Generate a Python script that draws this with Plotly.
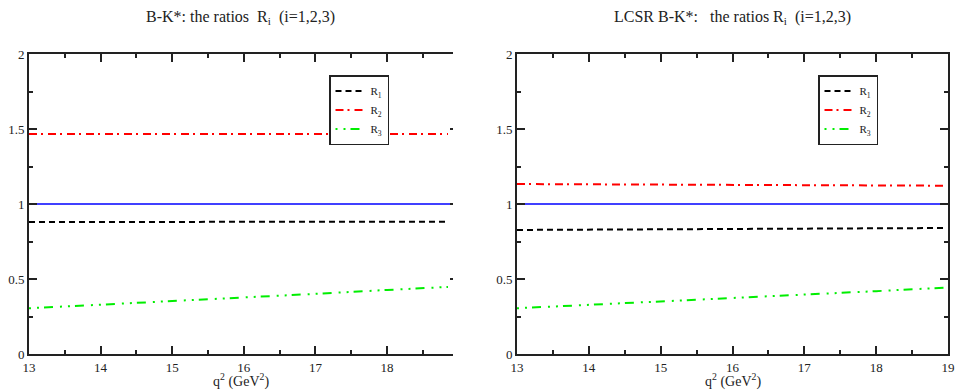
import plotly.graph_objects as go

# ---- data ----
q2_left = [13.0, 14.0, 15.0, 16.0, 17.0, 18.0, 18.85]
R1_left = [0.880, 0.880, 0.881, 0.881, 0.882, 0.882, 0.882]
R2_left = [1.467, 1.467, 1.467, 1.467, 1.467, 1.467, 1.467]
R3_left = [0.305, 0.328, 0.352, 0.376, 0.401, 0.427, 0.447]

q2_right = [13.0, 14.0, 15.0, 16.0, 17.0, 18.0, 18.95]
R1_right = [0.827, 0.829, 0.831, 0.833, 0.835, 0.838, 0.840]
R2_right = [1.133, 1.131, 1.129, 1.128, 1.126, 1.124, 1.122]
R3_right = [0.305, 0.327, 0.350, 0.373, 0.396, 0.419, 0.442]

ref_level = [1.0, 1.0]
x_ticks = [13, 14, 15, 16, 17, 18, 19]
y_ticks = [0, 0.5, 1, 1.5, 2]
y_ticklabels = ["0", "0.5", "1", "1.5", "2"]

titles = ["B-K*: the ratios&nbsp; R<sub>i</sub>&nbsp; (i=1,2,3)",
          "LCSR B-K*:&nbsp;&nbsp; the ratios R<sub>i</sub>&nbsp; (i=1,2,3)"]
xlabel = "q<sup>2</sup> (GeV<sup>2</sup>)"

FONT = "Liberation Serif"
AX = "#222222"
W, H = 956, 392

def px_x(p):
    return p / W

def px_y(p):
    return 1 - p / H

fig = go.Figure()

styles = {
    "R1": dict(color="black", dash="6px,4px"),
    "R2": dict(color="#ff0000", dash="8px,4px,2px,5px"),
    "R3": dict(color="#00ee00", dash="2px,6px,2px,5px,9px,7px"),
}
names = ["R<sub>1</sub>", "R<sub>2</sub>", "R<sub>3</sub>"]

for i, (xs, series, xa, ya, leg, xr) in enumerate([
        (q2_left, [R1_left, R2_left, R3_left], "x", "y", "legend", [13, 18.92]),
        (q2_right, [R1_right, R2_right, R3_right], "x2", "y2", "legend2", [13, 19])]):
    fig.add_trace(go.Scatter(x=xr, y=ref_level, mode="lines",
                             line=dict(color="#0000ff", width=1.5),
                             showlegend=False, xaxis=xa, yaxis=ya, hoverinfo="skip"))
    for k, (key, vals) in enumerate(zip(["R1", "R2", "R3"], series)):
        st = styles[key]
        fig.add_trace(go.Scatter(x=xs, y=vals, mode="lines", name=names[k],
                                 line=dict(color=st["color"], dash=st["dash"], width=2),
                                 xaxis=xa, yaxis=ya, legend=leg))

common_x = dict(tickmode="array", tickvals=x_ticks, ticks="inside", ticklen=8,
                tickwidth=1.5, tickcolor=AX, showline=True, linecolor=AX, linewidth=2,
                showgrid=False, zeroline=False, automargin=False,
                tickfont=dict(family=FONT, size=13, color="#222"),
                minor=dict(dtick=0.5, tick0=13, ticks="inside", ticklen=4, tickcolor=AX, tickwidth=1.5))
common_y = dict(tickmode="array", tickvals=y_ticks, ticktext=y_ticklabels, ticks="inside",
                ticklen=8, tickwidth=1.5, tickcolor=AX, showline=True, linecolor=AX,
                linewidth=2, showgrid=False, zeroline=False, range=[0, 2], automargin=False,
                tickfont=dict(family=FONT, size=13, color="#222"),
                minor=dict(dtick=0.25, tick0=0, ticks="inside", ticklen=4, tickcolor=AX, tickwidth=1.5))

ydom = [px_y(354), px_y(54)]
d1 = [px_x(29), px_x(453)]
d2 = [px_x(517), px_x(948)]

leg_common = dict(xanchor="left", yanchor="top", bordercolor=AX, borderwidth=1.5,
                  bgcolor="white", font=dict(family=FONT, size=11, color="#222"),
                  itemwidth=30, tracegroupgap=0)

fig.update_layout(
    width=W, height=H,
    margin=dict(l=0, r=0, t=0, b=0, autoexpand=False),
    paper_bgcolor="white", plot_bgcolor="white",
    font=dict(family=FONT, color="#222"),
    xaxis=dict(common_x, domain=d1, range=[13, 18.92], anchor="y", mirror="ticks"),
    yaxis=dict(common_y, domain=ydom, anchor="x", mirror=False),
    yaxis3=dict(overlaying="y", side="right", anchor="x", range=[0, 2], showline=False,
                tickmode="array", tickvals=y_ticks, ticks="inside", ticklen=3, automargin=False,
                tickcolor=AX, tickwidth=1.5, showticklabels=False, showgrid=False, zeroline=False),
    xaxis2=dict(common_x, domain=d2, range=[13, 19], anchor="y2", mirror="ticks"),
    yaxis2=dict(common_y, domain=ydom, anchor="x2", mirror="ticks"),
    legend=dict(leg_common, x=px_x(329), y=px_y(75)),
    legend2=dict(leg_common, x=px_x(818), y=px_y(75)),
    showlegend=True,
)
# dummy trace to activate yaxis3 (right-edge ticks of the left panel)
fig.add_trace(go.Scatter(x=[13], y=[None], xaxis="x", yaxis="y3", showlegend=False, hoverinfo="skip"))

for t, xc in zip(titles, [(d1[0] + d1[1]) / 2, (d2[0] + d2[1]) / 2]):
    fig.add_annotation(text=t, x=xc, y=px_y(17), xref="paper", yref="paper",
                       showarrow=False, font=dict(family=FONT, size=16, color="#222"),
                       xanchor="center", yanchor="middle")
    fig.add_annotation(text=xlabel, x=xc, y=px_y(380), xref="paper", yref="paper",
                       showarrow=False, font=dict(family=FONT, size=14, color="#222"),
                       xanchor="center", yanchor="middle")

fig.write_html("out.html", config={"displayModeBar": False},
               post_script="document.body.style.margin='0';document.body.style.overflow='hidden';")
